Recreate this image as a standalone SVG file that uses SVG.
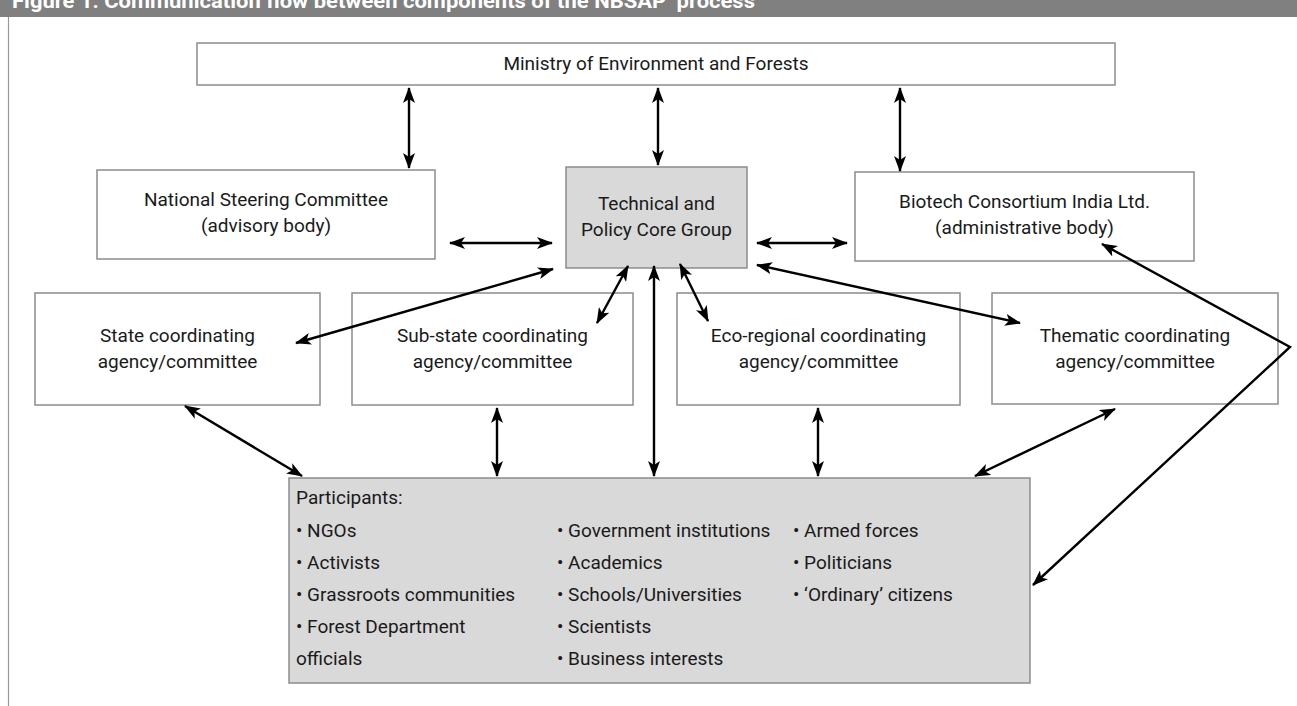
<svg xmlns="http://www.w3.org/2000/svg" width="1297" height="706" viewBox="0 0 1297 706">
<style>
.box{fill:#ffffff;stroke:#8c8c8c;stroke-width:1.5}
.gbox{fill:#d9d9d9;stroke:#8c8c8c;stroke-width:1.5}
.t{font-family:Roboto,"Liberation Sans",sans-serif;font-size:19px;fill:#1a1a1a;text-anchor:middle}
.p{font-family:Roboto,"Liberation Sans",sans-serif;font-size:19px;fill:#1a1a1a}
.c{fill:none;stroke:#000;stroke-width:2.4;marker-start:url(#ah);marker-end:url(#ah)}
</style>
<defs>
<marker id="ah" viewBox="0 0 16 12" refX="15" refY="6" markerWidth="16" markerHeight="12" markerUnits="userSpaceOnUse" orient="auto-start-reverse">
<path d="M0,0 L16,6 L0,12 L4,6 z" fill="#000"/>
</marker>
</defs>
<rect x="0" y="0" width="1297" height="17" fill="#808080"/>
<text x="12" y="8" font-family="Roboto,'Liberation Sans',sans-serif" font-size="21" font-weight="bold" fill="#ffffff" textLength="748" lengthAdjust="spacingAndGlyphs">Figure 1: Communication flow between components of the NBSAP ‘process’</text>
<line x1="8.5" y1="17" x2="8.5" y2="706" stroke="#999" stroke-width="1.2"/>

<g id="ministry"><rect class="box" x="197" y="43" width="918" height="42"/><text class="t" x="656" y="70">Ministry of Environment and Forests</text></g>
<g id="national"><rect class="box" x="97" y="170" width="338" height="89"/><text class="t" x="266" y="206">National Steering Committee</text><text class="t" x="266" y="232">(advisory body)</text></g>
<g id="technical"><rect class="gbox" x="566" y="167" width="181" height="101"/><text class="t" x="656.5" y="210">Technical and</text><text class="t" x="656.5" y="236">Policy Core Group</text></g>
<g id="biotech"><rect class="box" x="855" y="172" width="339" height="89"/><text class="t" x="1024.5" y="208">Biotech Consortium India Ltd.</text><text class="t" x="1024.5" y="234">(administrative body)</text></g>
<g id="state"><rect class="box" x="35" y="293" width="285" height="112"/><text class="t" x="177.5" y="342">State coordinating</text><text class="t" x="177.5" y="368">agency/committee</text></g>
<g id="substate"><rect class="box" x="352" y="293" width="281" height="112"/><text class="t" x="492.5" y="342">Sub-state coordinating</text><text class="t" x="492.5" y="368">agency/committee</text></g>
<g id="ecoregional"><rect class="box" x="677" y="293" width="283" height="112"/><text class="t" x="818.5" y="342">Eco-regional coordinating</text><text class="t" x="818.5" y="368">agency/committee</text></g>
<g id="thematic"><rect class="box" x="992" y="293" width="286" height="111"/><text class="t" x="1135" y="342">Thematic coordinating</text><text class="t" x="1135" y="368">agency/committee</text></g>
<g id="participants"><rect class="gbox" x="289" y="478" width="741" height="205"/>
<text class="p" x="296" y="504">Participants:</text>
<text class="p" x="296" y="537">• NGOs</text>
<text class="p" x="296" y="569">• Activists</text>
<text class="p" x="296" y="601">• Grassroots communities</text>
<text class="p" x="296" y="633">• Forest Department</text>
<text class="p" x="296" y="665">officials</text>
<text class="p" x="557" y="537">• Government institutions</text>
<text class="p" x="557" y="569">• Academics</text>
<text class="p" x="557" y="601">• Schools/Universities</text>
<text class="p" x="557" y="633">• Scientists</text>
<text class="p" x="557" y="665">• Business interests</text>
<text class="p" x="793" y="537">• Armed forces</text>
<text class="p" x="793" y="569">• Politicians</text>
<text class="p" x="793" y="601">• ‘Ordinary’ citizens</text>
</g>
<g id="connectors">
<line class="c" x1="409" y1="88" x2="409" y2="168"/>
<line class="c" x1="658" y1="88" x2="658" y2="165"/>
<line class="c" x1="900" y1="88" x2="900" y2="171"/>
<line class="c" x1="450" y1="243" x2="552" y2="243"/>
<line class="c" x1="757" y1="243" x2="847" y2="243"/>
<line class="c" x1="553" y1="269" x2="296" y2="343"/>
<line class="c" x1="628" y1="266" x2="597" y2="323"/>
<line class="c" x1="654" y1="266" x2="654" y2="476"/>
<line class="c" x1="680" y1="264" x2="708" y2="321"/>
<line class="c" x1="757" y1="265" x2="1020" y2="323"/>
<line class="c" x1="185" y1="406" x2="302" y2="476"/>
<line class="c" x1="497" y1="408" x2="497" y2="476"/>
<line class="c" x1="818" y1="408" x2="818" y2="476"/>
<line class="c" x1="1115" y1="409" x2="975" y2="476"/>
<polyline class="c" points="1102,244 1290,347 1033,585"/>
</g>
</svg>
